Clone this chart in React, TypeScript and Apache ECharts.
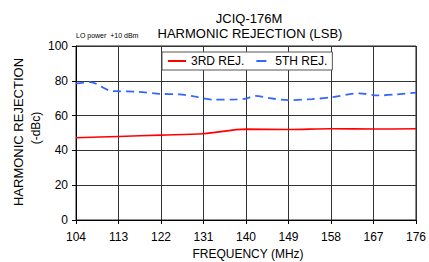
import React, { useEffect, useRef } from "react";
import * as echarts from "echarts";

const xTickStart = 104;
const xTickStep = 9;
const xTickEnd = 176;
const yTicks = [0, 20, 40, 60, 80, 100];

const thirdFreq = [104, 113, 122, 131, 140, 149, 158, 167, 176];
const thirdRej = [47.3, 48, 48.8, 49.6, 52.2, 52, 52.4, 52.3, 52.4];

const fifthFreq = [104, 107, 111, 113, 117, 122, 126, 129, 133, 138, 140, 142, 145, 149, 154, 158, 164, 168, 172, 176];
const fifthRej = [78.5, 79.2, 74.5, 74, 73.7, 72.5, 72.2, 71, 69.2, 69.3, 69.8, 71.3, 70, 68.9, 69.5, 70.5, 72.8, 71.6, 72.2, 73.2];

const FONT = "Liberation Sans, Arial, sans-serif";

export default function App() {
  const ref = useRef<HTMLDivElement>(null);
  useEffect(() => {
    const chart = echarts.init(ref.current!, null, { renderer: "svg" });
    chart.setOption({
      animation: false,
      backgroundColor: "#fff",
      textStyle: { fontFamily: FONT },
      grid: { left: 76, top: 46, right: 8, bottom: 42, show: true, borderColor: "#222", borderWidth: 1 },
      legend: {
        orient: "horizontal",
        left: 162,
        top: 52,
        itemGap: 12,
        itemWidth: 18,
        itemHeight: 2,
        padding: [2, 5, 2, 6],
        backgroundColor: "#fff",
        borderColor: "#555",
        borderWidth: 1,
        textStyle: { fontFamily: FONT, fontSize: 12, color: "#000", lineHeight: 14 },
        data: [
          { name: "3RD REJ.", icon: "rect" },
          { name: "5TH REJ.", icon: "path://M0,0h10v2h-10z" },
        ],
      },
      xAxis: {
        type: "value",
        min: 0,
        max: xTickEnd - xTickStart,
        interval: xTickStep,
        axisLine: { lineStyle: { color: "#000", width: 1 } },
        axisTick: { show: true, length: 4, lineStyle: { color: "#000" } },
        axisLabel: {
          color: "#000",
          fontSize: 12,
          margin: 11,
          fontFamily: FONT,
          formatter: (v: number) => String(v + xTickStart),
        },
        splitLine: { show: true, lineStyle: { color: "#333", width: 1 } },
      },
      yAxis: {
        type: "value",
        min: yTicks[0],
        max: yTicks[yTicks.length - 1],
        interval: 20,
        axisLine: { show: true, lineStyle: { color: "#000", width: 1 } },
        axisTick: { show: true, length: 4, lineStyle: { color: "#000" } },
        axisLabel: { color: "#000", fontSize: 12, margin: 8, fontFamily: FONT },
        splitLine: { show: true, lineStyle: { color: "#333", width: 1 } },
      },
      series: [
        {
          name: "3RD REJ.",
          type: "line",
          smooth: 0.3,
          showSymbol: false,
          symbol: "none",
          lineStyle: { color: "#ff0000", width: 1.6 },
          itemStyle: { color: "#ff0000" },
          data: thirdFreq.map((f, i) => [f - xTickStart, thirdRej[i]]),
        },
        {
          name: "5TH REJ.",
          type: "line",
          smooth: 0.3,
          showSymbol: false,
          symbol: "none",
          lineStyle: { color: "#3366ff", width: 1.8, type: [8, 5] },
          itemStyle: { color: "#3366ff" },
          data: fifthFreq.map((f, i) => [f - xTickStart, fifthRej[i]]),
        },
      ],
      graphic: [
        {
          type: "text",
          x: 249,
          y: 18,
          style: { text: "JCIQ-176M", fontSize: 13, fontFamily: FONT, fill: "#000", textAlign: "center", textVerticalAlign: "middle" },
        },
        {
          type: "text",
          x: 250,
          y: 33,
          style: { text: "HARMONIC REJECTION (LSB)", fontSize: 13, fontFamily: FONT, fill: "#000", textAlign: "center", textVerticalAlign: "middle" },
        },
        {
          type: "text",
          x: 76,
          y: 35,
          style: { text: "LO power  +10 dBm", fontSize: 7, fontFamily: FONT, fill: "#000", textAlign: "left", textVerticalAlign: "middle" },
        },
        {
          type: "text",
          x: 18.5,
          y: 132,
          rotation: Math.PI / 2,
          style: { text: "HARMONIC REJECTION", fontSize: 13, fontFamily: FONT, fill: "#000", textAlign: "center", textVerticalAlign: "middle" },
        },
        {
          type: "text",
          x: 35.5,
          y: 128,
          rotation: Math.PI / 2,
          style: { text: "(-dBc)", fontSize: 12, fontFamily: FONT, fill: "#000", textAlign: "center", textVerticalAlign: "middle" },
        },
        {
          type: "text",
          x: 248,
          y: 254,
          style: { text: "FREQUENCY (MHz)", fontSize: 12, fontFamily: FONT, fill: "#000", textAlign: "center", textVerticalAlign: "middle" },
        },
      ],
    });
    return () => chart.dispose();
  }, []);
  return <div ref={ref} style={{ position: "fixed", left: 0, top: 0, width: 429, height: 262 }} />;
}
